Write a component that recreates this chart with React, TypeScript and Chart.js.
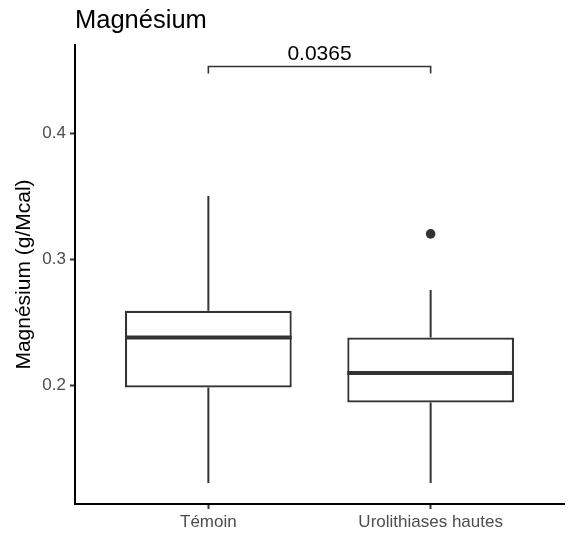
import React, { useEffect, useRef } from "react";
import { Chart, registerables } from "chart.js";

Chart.register(...registerables);

// ---- data ----
const categories = ["Témoin", "Urolithiases hautes"];
const positions = [1, 2];
const whiskerLow = [0.1227, 0.1227];
const q1 = [0.1984, 0.1865];
const median = [0.238, 0.2098];
const q3 = [0.2593, 0.238];
const whiskerHigh = [0.3502, 0.2758];
const outlierPositions = [2];
const outlierValues = [0.3202];
const yTicks = [0.2, 0.3, 0.4];
const yMin = 0.106;
const yMax = 0.47;
const pValueLabel = "0.0365";
const bracketGroups = [1, 2];
const bracketLevel = 0.453;
const bracketTip = 0.4474;

const FONT = "'Liberation Sans', Arial, Helvetica, sans-serif";
const LINE = "#333333";

const boxExtras = {
  id: "boxExtras",
  beforeDatasetsDraw(chart: any) {
    const { ctx, scales } = chart;
    const x = scales.x;
    const y = scales.y;
    ctx.save();
    ctx.strokeStyle = LINE;
    ctx.lineWidth = 2;
    ctx.lineCap = "butt";
    positions.forEach((p, i) => {
      const px = x.getPixelForValue(p);
      ctx.beginPath();
      ctx.moveTo(px, y.getPixelForValue(whiskerHigh[i]));
      ctx.lineTo(px, y.getPixelForValue(q3[i]));
      ctx.moveTo(px, y.getPixelForValue(q1[i]));
      ctx.lineTo(px, y.getPixelForValue(whiskerLow[i]));
      ctx.stroke();
    });
    ctx.restore();
  },
  afterDatasetsDraw(chart: any) {
    const { ctx, scales } = chart;
    const x = scales.x;
    const y = scales.y;
    const meta = chart.getDatasetMeta(0);
    ctx.save();
    // medians
    ctx.strokeStyle = LINE;
    ctx.lineWidth = 4;
    ctx.lineCap = "butt";
    meta.data.forEach((bar: any, i: number) => {
      const { x: cx, width } = bar.getProps(["x", "width"], true);
      const py = y.getPixelForValue(median[i]);
      ctx.beginPath();
      ctx.moveTo(cx - width / 2, py);
      ctx.lineTo(cx + width / 2, py);
      ctx.stroke();
    });
    // significance bracket
    const x1 = x.getPixelForValue(bracketGroups[0]);
    const x2 = x.getPixelForValue(bracketGroups[1]);
    const by = y.getPixelForValue(bracketLevel);
    const bt = y.getPixelForValue(bracketTip);
    ctx.strokeStyle = "#333333";
    ctx.lineWidth = 1.6;
    ctx.beginPath();
    ctx.moveTo(x1, bt);
    ctx.lineTo(x1, by);
    ctx.lineTo(x2, by);
    ctx.lineTo(x2, bt);
    ctx.stroke();
    ctx.fillStyle = "#000000";
    ctx.font = `21px ${FONT}`;
    ctx.textAlign = "center";
    ctx.textBaseline = "alphabetic";
    ctx.fillText(pValueLabel, (x1 + x2) / 2, by - 6);
    ctx.restore();
  },
};

export default function App() {
  const ref = useRef<HTMLCanvasElement | null>(null);

  useEffect(() => {
    document.body.style.margin = "0";
    const canvas = ref.current;
    if (!canvas) return;
    Chart.defaults.font.family = FONT;

    const chart = new Chart(canvas, {
      type: "bar",
      data: {
        datasets: [
          {
            type: "bar",
            data: positions.map((p, i) => ({ x: p, y: [q1[i], q3[i]] })) as any,
            backgroundColor: "#ffffff",
            borderColor: LINE,
            borderWidth: 2.2,
            borderSkipped: false,
            categoryPercentage: 0.75,
            barPercentage: 1,
            order: 1,
          } as any,
          {
            type: "scatter",
            data: outlierPositions.map((p, i) => ({ x: p, y: outlierValues[i] })),
            pointRadius: 4.8,
            pointBackgroundColor: LINE,
            pointBorderWidth: 0,
            pointBorderColor: LINE,
            order: 0,
          } as any,
        ],
      },
      options: {
        responsive: false,
        animation: false,
        events: [],
        layout: { padding: { left: 0, right: 10, top: 0, bottom: 0 } },
        plugins: {
          legend: { display: false },
          tooltip: { enabled: false },
          title: {
            display: true,
            text: "Magnésium",
            align: "start",
            fullSize: false,
            color: "#000000",
            font: { family: FONT, size: 25.5, weight: "normal" as any, lineHeight: 1.2 },
            padding: { top: 5.7, bottom: 8.7 },
          },
        },
        scales: {
          x: {
            type: "linear",
            min: 0.4,
            max: 2.6,
            offset: false,
            afterBuildTicks: (s: any) => {
              s.ticks = positions.map((v) => ({ value: v }));
            },
            afterFit: (s: any) => {
              s.height = 36;
            },
            ticks: {
              callback: (v: any) => categories[positions.indexOf(Number(v))],
              color: "#4D4D4D",
              font: { family: FONT, size: 17 },
              padding: 3,
              autoSkip: false,
              maxRotation: 0,
            },
            grid: {
              display: true,
              drawOnChartArea: false,
              drawTicks: true,
              tickLength: 5,
              tickColor: LINE,
              tickWidth: 2,
              offset: false,
            },
            border: { display: true, color: "#000000", width: 2 },
          },
          y: {
            type: "linear",
            min: yMin,
            max: yMax,
            afterBuildTicks: (s: any) => {
              s.ticks = yTicks.map((v) => ({ value: v }));
            },
            afterFit: (s: any) => {
              s.width = 75;
            },
            ticks: {
              callback: (v: any) => Number(v).toFixed(1),
              color: "#4D4D4D",
              font: { family: FONT, size: 17 },
              padding: 4,
            },
            grid: {
              display: true,
              drawOnChartArea: false,
              drawTicks: true,
              tickLength: 5,
              tickColor: LINE,
              tickWidth: 2,
            },
            border: { display: true, color: "#000000", width: 2 },
            title: {
              display: true,
              text: "Magnésium (g/Mcal)",
              color: "#000000",
              font: { family: FONT, size: 21, lineHeight: 1.2 },
              padding: { top: 12, bottom: 0 },
            },
          },
        },
      } as any,
      plugins: [boxExtras],
    });
    return () => chart.destroy();
  }, []);

  return (
    <div style={{ width: 574, height: 540 }}>
      <canvas ref={ref} width={574} height={540} style={{ display: "block", width: 574, height: 540 }} />
    </div>
  );
}
